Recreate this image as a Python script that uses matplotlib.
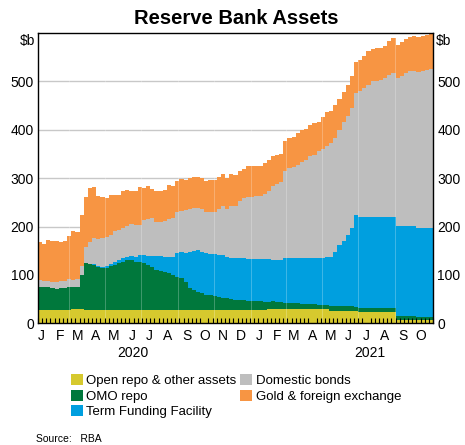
import numpy as np
import pandas as pd
import matplotlib
matplotlib.use('Agg')
import matplotlib.pyplot as plt

plt.rcParams['font.family'] = ['Liberation Sans', 'DejaVu Sans']

# weekly balance sheet, $b (95 weeks from Jan 2020)
start = '2020-01-09'

open_repo = [27]*8 + [29]*3 + [28]*44 + [30]*8 + [29]*7 + [26]*7 + [24]*9 + [7]*9

omo_repo = [49, 48, 47, 46, 43, 45, 45, 49, 45, 47,
            71, 96, 95, 93, 88, 86, 87, 90, 93, 96,
            99, 103, 102, 98, 99, 96, 93, 89, 83, 81,
            79, 75, 72, 68, 66, 58, 44, 40, 36, 34,
            31, 30, 29, 27, 25, 24, 22, 21, 21, 20,
            19, 19, 18, 18, 17, 15, 16, 15, 13, 12,
            11, 11, 11, 11, 11, 10, 10, 9, 8, 8,
            10, 10, 10, 10, 10, 10, 8, 7, 7, 7,
            7, 7, 7, 7, 7, 7, 8, 8, 8, 8,
            8, 5, 5, 5, 5]

tff = [0]*13 + [1, 2, 3, 3, 4, 5, 6, 7, 7, 9,
                10, 14, 17, 19, 23, 28, 30, 31, 34, 37,
                49, 53, 60, 75, 81, 88, 85, 86, 86, 86,
                87, 88, 85, 84, 85, 86, 86, 85, 85, 86,
                86, 87, 87, 85, 86, 87, 93, 94, 94, 94,
                95, 95, 96, 96, 97, 98, 100, 102, 112, 125,
                135, 147, 160, 189, 188, 188, 188, 188, 188, 188,
                188, 188, 188, 187, 187, 187, 187, 187, 186, 186,
                186, 186]

bonds = [14, 13, 13, 12, 15, 15, 16, 15, 16, 15,
         19, 34, 46, 55, 56, 59, 61, 60, 65, 63,
         63, 63, 66, 67, 63, 73, 75, 77, 71, 71,
         74, 78, 80, 86, 86, 88, 89, 90, 86, 89,
         86, 86, 87, 94, 102, 99, 109, 109, 117, 125,
         130, 130, 131, 131, 135, 142, 153, 157, 163, 179,
         185, 189, 192, 199, 203, 210, 213, 222, 225, 230,
         234, 235, 239, 246, 246, 249, 254, 262, 267, 274,
         281, 282, 284, 288, 295, 298, 305, 310, 315, 319,
         319, 321, 323, 326, 327]

gold_fx = [78, 75, 85, 86, 85, 81, 83, 90, 101, 98,
           105, 104, 111, 105, 89, 85, 79, 84, 75, 73,
           77, 74, 68, 70, 77, 66, 68, 60, 64, 64,
           64, 70, 67, 64, 65, 63, 64, 64, 65, 64,
           64, 67, 67, 67, 65, 65, 65, 64, 62, 60,
           63, 63, 63, 63, 65, 64, 61, 60, 57, 63,
           63, 61, 66, 66, 63, 65, 66, 60, 67, 69,
           66, 69, 64, 62, 64, 67, 64, 64, 67, 69,
           67, 67, 65, 67, 70, 73, 69, 69, 71, 71,
           73, 73, 73, 72, 72]

labels = ['Open repo & other assets', 'OMO repo', 'Term Funding Facility',
          'Domestic bonds', 'Gold & foreign exchange']
colors = ['#d6c92e', '#00783c', '#009fdf', '#bebebe', '#f79543']

yticks = [0, 100, 200, 300, 400, 500]
years = {'2020': '2020-06-17', '2021': '2021-07-21'}

series = [open_repo, omo_repo, tff, bonds, gold_fx]
n = len(gold_fx)
# bar edges, one week wide each
edges = pd.date_range(start, periods=n + 1, freq='7D')

fig = plt.figure(figsize=(4.65, 4.45), dpi=100)
ax = fig.add_axes([38/465, 1 - 323.3/445, 395/465, 290.3/445])

for yv in yticks[1:]:
    ax.axhline(yv, color='#c8c8c8', lw=1.0, zorder=0)

bottom = np.zeros(n)
handles = []
for vals, lab, col in zip(series, labels, colors):
    top = bottom + np.array(vals, dtype=float)
    h = ax.fill_between(edges, np.append(bottom, bottom[-1]),
                        np.append(top, top[-1]), step='post',
                        color=col, lw=0, label=lab, zorder=1)
    handles.append(h)
    bottom = top

# faint breaks seen in the RBA fills every second month
for d in pd.date_range('2020-03-01', '2021-10-01', freq='2MS'):
    ax.axvline(d, color='white', lw=0.7, alpha=0.25, zorder=1.5)

ax.set_xlim(edges[0], edges[-1])
ax.set_ylim(0, 600)

ax.set_yticks(yticks)
ax.tick_params(axis='y', length=0, labelleft=True, labelright=True,
               pad=3, labelsize=10)

months = pd.date_range('2020-01-01', '2021-10-01', freq='MS')
ax.set_xticks(months + pd.Timedelta(days=14))
ax.set_xticklabels([m.strftime('%b')[0] for m in months])
ax.tick_params(axis='x', which='major', length=0, pad=4, labelsize=10)
ax.set_xticks(edges, minor=True)
ax.tick_params(axis='x', which='minor', direction='in', length=3.5,
               width=0.8, color='black')

for spine in ax.spines.values():
    spine.set_color('black')
    spine.set_linewidth(1.0)

for yr, d in years.items():
    ax.text(pd.Timestamp(d), -0.103, yr, transform=ax.get_xaxis_transform(),
            ha='center', va='center', fontsize=10)

ax.text(-3/395, 0.974, '$b', transform=ax.transAxes, ha='right', va='center',
        fontsize=10)
ax.text(1 + 3/395, 0.974, '$b', transform=ax.transAxes, ha='left', va='center',
        fontsize=10)

fig.text(236/465, 1 - 19/445, 'Reserve Bank Assets', ha='center', va='center',
         fontsize=14.5, fontweight='bold')

fig.legend(handles=handles, loc='upper left', ncol=2,
           bbox_to_anchor=(71/465, 1 - 374/445), frameon=False,
           fontsize=9.5, handlelength=0.9, handleheight=0.9,
           handletextpad=0.25, columnspacing=0.3, labelspacing=0.2,
           borderpad=0, borderaxespad=0)

fig.text(36/465, 1 - 439/445, 'Source:   RBA', fontsize=7.5, va='center')

fig.savefig('out.png', dpi=100)
